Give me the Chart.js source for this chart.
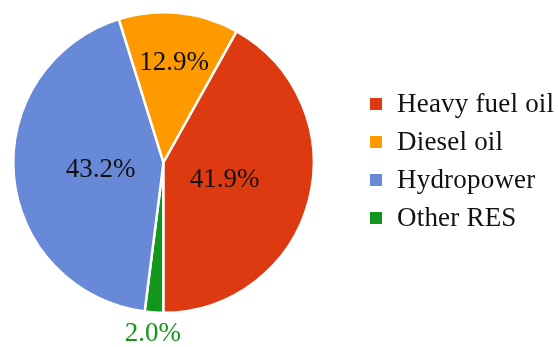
<!DOCTYPE html>
<html>
<head>
<meta charset="utf-8">
<script src="https://cdn.jsdelivr.net/npm/chart.js@4/dist/chart.umd.min.js"></script>
<style>
  body { margin: 0; background: #fff; }
  #wrap { position: relative; width: 558px; height: 347px; }
  #legend { position: absolute; left: 370px; top: 84px; font-family: "Liberation Serif", serif; font-size: 27px; letter-spacing: 0.2px; color: #111; }
  .row { height: 38px; line-height: 38px; white-space: nowrap; }
  .box { display: inline-block; width: 12px; height: 12px; margin-right: 15px; vertical-align: middle; position: relative; top: -2px; }
</style>
</head>
<body>
<div id="wrap">
  <canvas id="chart" width="558" height="347"></canvas>
  <div id="legend"></div>
</div>
<script>
// データ（凡例の順）
const sources = ["Heavy fuel oil", "Diesel oil", "Hydropower", "Other RES"];
const shares = [41.9, 12.9, 43.2, 2.0];
const colors = ["#dd3a12", "#ff9900", "#6789d8", "#12961b"];

// 円グラフは反時計回りなので、Chart.js 用に逆順にする
const pieLabels = [...sources].reverse();
const pieValues = [...shares].reverse();
const pieColors = [...colors].reverse();

// パーセント表示用プラグイン
const pctLabels = {
  id: "pctLabels",
  afterDatasetsDraw(chart) {
    const ctx = chart.ctx;
    const meta = chart.getDatasetMeta(0);
    ctx.save();
    ctx.font = "27px 'Liberation Serif', serif";
    ctx.textAlign = "center";
    ctx.textBaseline = "middle";
    meta.data.forEach((arc, i) => {
      const v = pieValues[i];
      const p = arc.getProps(["x", "y", "startAngle", "endAngle", "outerRadius"], true);
      const mid = (p.startAngle + p.endAngle) / 2;
      let f = 0.42;
      ctx.fillStyle = "#111";
      if (v < 5) { f = 1.13; ctx.fillStyle = pieColors[i]; }
      else if (v < 20) { f = 0.68; }
      const x = p.x + Math.cos(mid) * p.outerRadius * f;
      const y = p.y + Math.sin(mid) * p.outerRadius * f;
      ctx.fillText(v.toFixed(1) + "%", x, y + 2);
    });
    ctx.restore();
  }
};

const chart = new Chart(document.getElementById("chart").getContext("2d"), {
  type: "pie",
  data: {
    labels: pieLabels,
    datasets: [{
      data: pieValues,
      backgroundColor: pieColors,
      borderColor: "#fff",
      borderWidth: 2.5
    }]
  },
  options: {
    responsive: false,
    animation: false,
    rotation: 180,
    layout: { padding: { left: 12, right: 243, top: 11, bottom: 33 } },
    plugins: {
      legend: { display: false },
      tooltip: { enabled: false }
    }
  },
  plugins: [pctLabels]
});

// 凡例
const legend = document.getElementById("legend");
sources.forEach((name, i) => {
  const row = document.createElement("div");
  row.className = "row";
  row.innerHTML = `<span class="box" style="background:${colors[i]}"></span>${name}`;
  legend.appendChild(row);
});
</script>
</body>
</html>
